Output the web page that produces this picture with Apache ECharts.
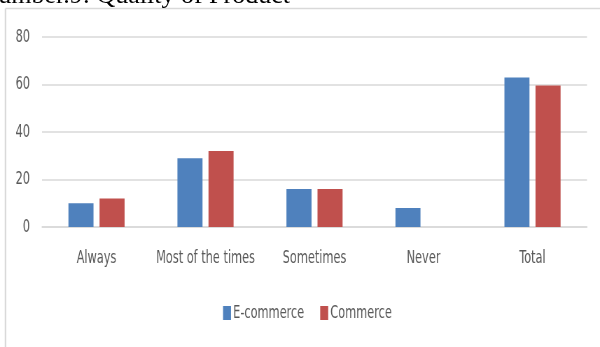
<!DOCTYPE html>
<html>
<head>
<meta charset="utf-8">
<script src="https://cdn.jsdelivr.net/npm/echarts@6/dist/echarts.min.js"></script>
<style>
html,body{margin:0;padding:0;background:#fff;overflow:hidden;}
#wrap{position:relative;width:600px;height:347px;overflow:hidden;background:#fff;}
#chart{position:absolute;left:0;top:0;width:857px;height:347px;transform:scaleX(0.7001);transform-origin:0 0;}
#overlay{position:absolute;left:0;top:0;width:600px;height:347px;pointer-events:none;}
</style>
</head>
<body>
<div id="wrap"><div id="chart"></div><div id="overlay"></div></div>
<script>
const categories = ['Always', 'Most of the times', 'Sometimes', 'Never', 'Total'];
const ecommerce = [10, 29, 16, 8, 63];
const commerce = [12, 32, 16, 0, 59.6];
const yTicks = [0, 20, 40, 60, 80];
const seriesNames = ['E-commerce', 'Commerce'];
const captionText = 'Number.9: Quality of Product';

// chart is drawn 1/0.7 wider and compressed horizontally to mimic the narrow font
const S = 0.7001;
const hx = v => v / S;
const labelFont = '"DejaVu Sans Condensed", "DejaVu Sans", sans-serif';

const chart = echarts.init(document.getElementById('chart'));
chart.setOption({
  animation: false,
  backgroundColor: 'transparent',
  grid: { left: hx(42), right: hx(13), top: 37, bottom: 120 },
  legend: {
    data: seriesNames,
    left: hx(223),
    top: 304,
    padding: 0,
    itemWidth: hx(8),
    itemHeight: 14,
    itemGap: hx(16),
    icon: 'rect',
    itemStyle: { borderWidth: 0 },
    textStyle: { fontFamily: labelFont, fontSize: 18, color: '#595959', padding: [0, 0, 0, -2] }
  },
  xAxis: {
    type: 'category',
    data: categories,
    axisLine: { show: true, lineStyle: { color: '#d9d9d9', width: 1.5 } },
    axisTick: { show: false },
    axisLabel: { interval: 0, fontFamily: labelFont, fontSize: 18, color: '#595959', margin: 22 }
  },
  yAxis: {
    type: 'value',
    min: yTicks[0],
    max: yTicks[yTicks.length - 1],
    interval: 20,
    axisLine: { show: false },
    axisTick: { show: false },
    splitLine: { lineStyle: { color: '#d9d9d9', width: 1.5 } },
    axisLabel: { fontFamily: labelFont, fontSize: 18, color: '#595959', margin: hx(12) }
  },
  series: [
    { name: seriesNames[0], type: 'bar', data: ecommerce, barWidth: '23%', barGap: '24%',
      itemStyle: { color: '#4f81bd' } },
    { name: seriesNames[1], type: 'bar', data: commerce, barWidth: '23%', barGap: '24%',
      itemStyle: { color: '#c0504d' } }
  ]
});

const overlay = echarts.init(document.getElementById('overlay'));
overlay.setOption({
  backgroundColor: 'transparent',
  graphic: [
    { type: 'line', shape: { x1: 5.5, y1: 8.5, x2: 600, y2: 8.5 }, style: { stroke: '#d9d9d9', lineWidth: 1.5 } },
    { type: 'line', shape: { x1: 5.5, y1: 8.5, x2: 5.5, y2: 347 }, style: { stroke: '#d9d9d9', lineWidth: 1.5 } },
    { type: 'text', x: 290, y: 9, style: { text: captionText, font: '26px "Liberation Serif", "Times New Roman", serif', fill: '#000', align: 'right', verticalAlign: 'bottom' } }
  ]
});
</script>
</body>
</html>
